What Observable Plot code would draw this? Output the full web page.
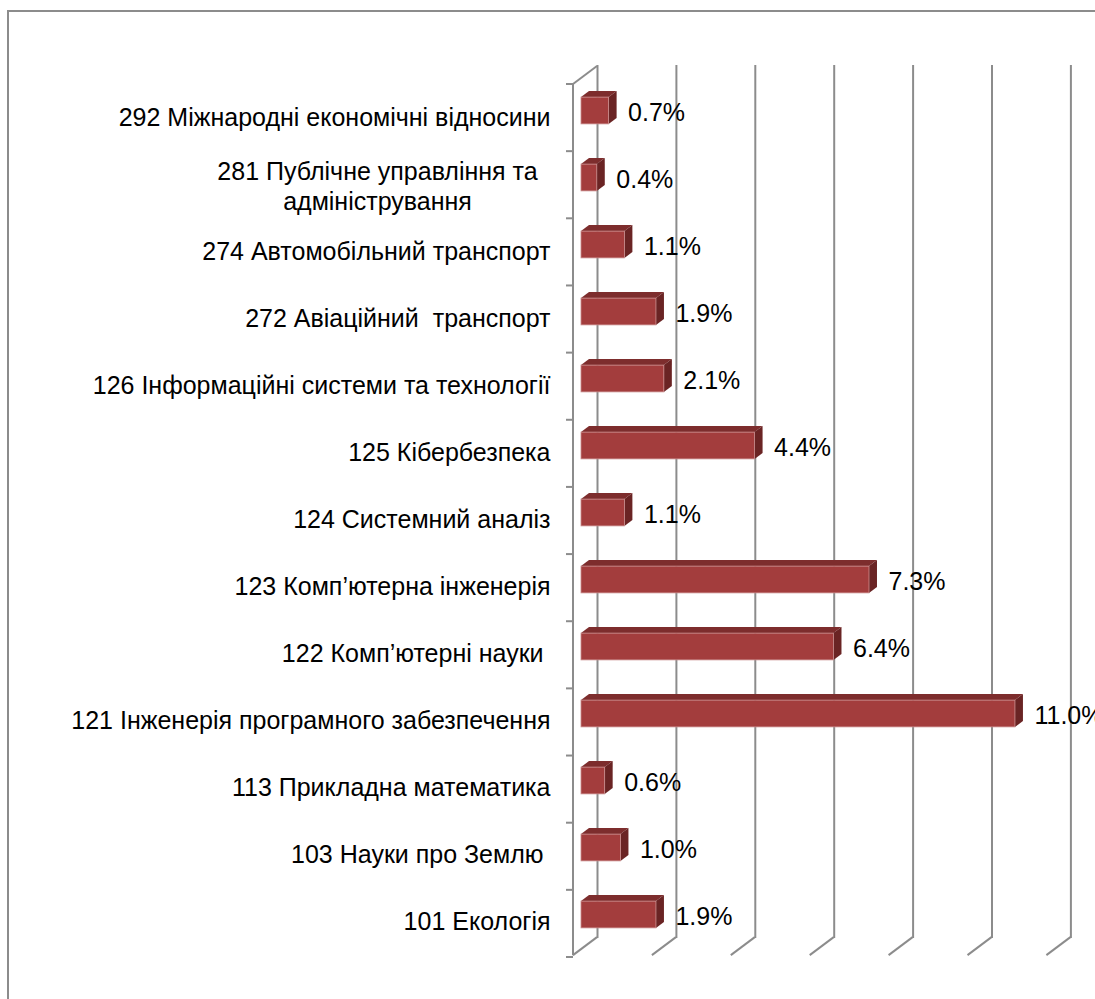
<!DOCTYPE html>
<html><head><meta charset="utf-8">
<script src="https://cdn.jsdelivr.net/npm/d3@7"></script>
<script src="https://cdn.jsdelivr.net/npm/@observablehq/plot@0.6"></script>
<style>
html,body{margin:0;padding:0;background:#fff;overflow:hidden}
#wrap{position:relative;width:1095px;height:999px;overflow:hidden}
#chart{position:absolute;left:0;top:0}
#frame{position:absolute;left:7px;top:10px;width:1200px;height:1200px;border-left:2px solid #8c8c8c;border-top:2px solid #8c8c8c;pointer-events:none}
#chart svg{display:block}
#chart text{white-space:pre}
</style></head><body>
<div id="wrap"><div id="chart"></div><div id="frame"></div></div>
<script>
// Categories, top to bottom
const categories = [
  "292 Міжнародні економічні відносини",
  "281 Публічне управління та адміністрування",
  "274 Автомобільний транспорт",
  "272 Авіаційний  транспорт",
  "126 Інформаційні системи та технології",
  "125 Кібербезпека",
  "124 Системний аналіз",
  "123 Комп’ютерна інженерія",
  "122 Комп’ютерні науки ",
  "121 Інженерія програмного забезпечення",
  "113 Прикладна математика",
  "103 Науки про Землю ",
  "101 Екологія"
];
// Displayed label lines (wrapped where the original wraps)
const labels = [
  "292 Міжнародні економічні відносини",
  "281 Публічне управління та\nадміністрування",
  "274 Автомобільний транспорт",
  "272 Авіаційний  транспорт",
  "126 Інформаційні системи та технології",
  "125 Кібербезпека",
  "124 Системний аналіз",
  "123 Комп’ютерна інженерія",
  "122 Комп’ютерні науки ",
  "121 Інженерія програмного забезпечення",
  "113 Прикладна математика",
  "103 Науки про Землю ",
  "101 Екологія"
];
const values = [0.7, 0.4, 1.1, 1.9, 2.1, 4.4, 1.1, 7.3, 6.4, 11.0, 0.6, 1.0, 1.9];
const xTicks = [0, 2, 4, 6, 8, 10, 12];

const data = categories.map((c, i) => ({cat: c, label: labels[i], value: values[i], wrapped: labels[i].includes("\n")}));

const FRONT = "#a33d3d", TOP = "#7d2d2d", SIDE = "#6a2424", GRID = "#8c8c8c";
const DX = 8, DY = -6;           // one depth step in pixels
const INSET_TOP = 13.1, INSET_BOTTOM = 27.1;

function bandwidthOf(dimensions) {
  return (dimensions.height - dimensions.marginTop - dimensions.marginBottom) / categories.length;
}

// Walls: left axis line, its ticks, floor diagonals
function walls(index, scales, values, dimensions) {
  const {x, y} = scales;
  const bw = bandwidthOf(dimensions);
  const y0 = y(categories[0]);
  const y1 = y(categories[categories.length - 1]) + bw;
  const g = d3.create("svg:g").attr("stroke", GRID).attr("stroke-width", 2).attr("fill", "none");
  const fx = x(0) - DX;
  g.append("line").attr("x1", fx).attr("x2", fx).attr("y1", y0).attr("y2", y1);
  g.append("line").attr("x1", fx).attr("x2", fx + 3 * DX).attr("y1", y0).attr("y2", y0 + 3 * DY);
  for (let k = 0; k <= categories.length; k++) {
    const yy = y0 + k * bw;
    g.append("line").attr("x1", fx - 7).attr("x2", fx).attr("y1", yy).attr("y2", yy);
  }
  for (const t of xTicks) {
    const xx = x(t) - DX;
    g.append("line").attr("x1", xx).attr("x2", xx + 3 * DX).attr("y1", y1).attr("y2", y1 + 3 * DY);
  }
  return g.node();
}

// Top and side faces of the 3D bars
function faces(index, scales, values, dimensions) {
  const {x, y} = scales;
  const bw = bandwidthOf(dimensions);
  const g = d3.create("svg:g");
  data.forEach(d => {
    const xa = x(0), xb = x(d.value);
    const yt = y(d.cat) + INSET_TOP, yb = y(d.cat) + bw - INSET_BOTTOM;
    g.append("polygon").attr("fill", TOP)
      .attr("points", [[xa, yt], [xb, yt], [xb + DX, yt + DY], [xa + DX, yt + DY]].join(" "));
    g.append("polygon").attr("fill", SIDE)
      .attr("points", [[xb, yt], [xb + DX, yt + DY], [xb + DX, yb + DY], [xb, yb]].join(" "));
  });
  return g.node();
}

const chart = Plot.plot({
  width: 1095,
  height: 999,
  marginLeft: 581,
  marginRight: 1095 - 581 - 12 * 39.45,
  marginTop: 83,
  marginBottom: 43,
  x: {domain: [0, 12], axis: null},
  y: {domain: categories, axis: null, padding: 0},
  style: {background: "transparent", fontFamily: "'Liberation Sans', Arial, sans-serif", fontSize: "25px", color: "#000", overflow: "visible"},
  marks: [
    Plot.ruleX(xTicks, {x: d => d, dx: 2 * DX, dy: 3 * DY, stroke: GRID, strokeWidth: 2}),
    walls,
    faces,
    Plot.barX(data, {x: "value", y: "cat", fill: FRONT, stroke: "#c98c8c", strokeWidth: 0.8, insetTop: INSET_TOP, insetBottom: INSET_BOTTOM}),
    Plot.text(data.filter(d => !d.wrapped), {x: 0, y: "cat", text: "label", textAnchor: "end", dx: -31, fill: "#000", fontSize: 25}),
    Plot.text(data.filter(d => d.wrapped), {x: 0, y: "cat", text: "label", textAnchor: "middle", dx: -204, lineHeight: 1.2, fill: "#000", fontSize: 25, wordSpacing: 4}),
    Plot.text(data, {x: "value", y: "cat", text: d => d.value.toFixed(1) + "%", textAnchor: "start", dx: 19, dy: -5, fill: "#000", fontSize: 25})
  ]
});
document.getElementById("chart").appendChild(chart);
</script>
</body></html>
